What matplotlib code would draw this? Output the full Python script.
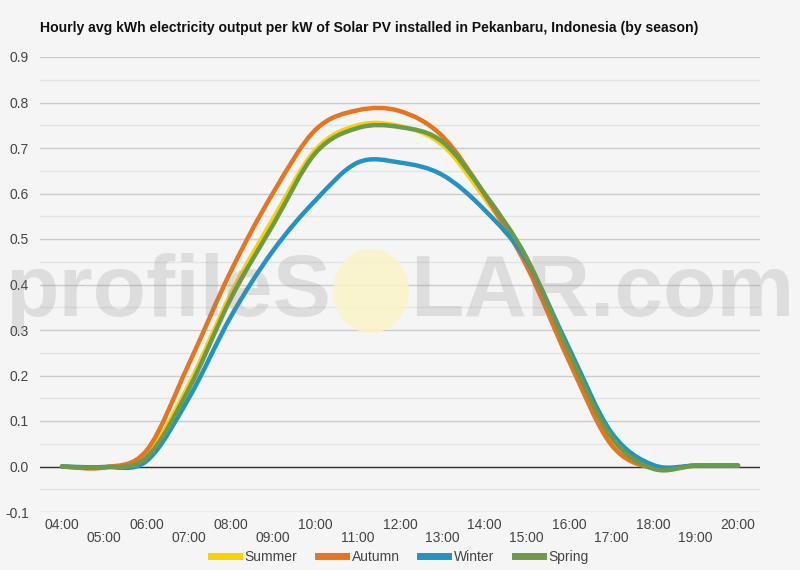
import matplotlib
matplotlib.use("Agg")
import matplotlib.pyplot as plt
from matplotlib.path import Path
from matplotlib.patches import PathPatch, Ellipse
from matplotlib.lines import Line2D
import numpy as np

plt.rcParams['font.family'] = ['Liberation Sans', 'DejaVu Sans']

# hourly averages, 04:00 .. 20:00
hours = list(range(4, 21))
hour_labels = [f"{h:02d}:00" for h in hours]
summer = [0.0, -0.002, 0.025, 0.18, 0.38, 0.545, 0.696, 0.75, 0.748, 0.707, 0.59, 0.45, 0.24, 0.055, -0.003, 0.002, 0.002]
autumn = [0.0, -0.002, 0.035, 0.225, 0.43, 0.602, 0.74, 0.783, 0.781, 0.726, 0.598, 0.44, 0.232, 0.048, -0.004, 0.002, 0.002]
winter = [0.0, -0.001, 0.012, 0.15, 0.33, 0.475, 0.585, 0.668, 0.668, 0.641, 0.564, 0.452, 0.26, 0.075, 0.003, 0.002, 0.002]
spring = [0.0, -0.002, 0.02, 0.17, 0.37, 0.532, 0.689, 0.744, 0.746, 0.714, 0.60, 0.458, 0.25, 0.065, -0.005, 0.002, 0.002]

series = [("Summer", summer, "#f9d200"),
          ("Autumn", autumn, "#e8741e"),
          ("Winter", winter, "#2293c3"),
          ("Spring", spring, "#6b9a4a")]

BG = "#f5f5f5"


# smooth curve through the points (catmull-rom as cubic bezier)
def smooth_path(x, y):
    pts = np.column_stack([x, y]).astype(float)
    n = len(pts)
    verts = [pts[0]]
    codes = [Path.MOVETO]
    for i in range(n - 1):
        p0 = pts[max(i - 1, 0)]
        p1 = pts[i]
        p2 = pts[i + 1]
        p3 = pts[min(i + 2, n - 1)]
        c1 = p1 + (p2 - p0) / 6.0
        c2 = p2 - (p3 - p1) / 6.0
        verts += [c1, c2, p2]
        codes += [Path.CURVE4] * 3
    return Path(verts, codes)


fig = plt.figure(figsize=(8, 5.7), dpi=100, facecolor=BG)
ax = fig.add_axes([0.05, 1 - 512 / 570, 0.90, (512 - 57) / 570])
ax.set_facecolor(BG)

for name, vals, col in series:
    patch = PathPatch(smooth_path(hours, vals), fill=False, edgecolor=col,
                      lw=3.2, capstyle='round', joinstyle='round', zorder=3)
    ax.add_patch(patch)

ax.set_xlim(4 - 22 / 42.25, 20 + 22 / 42.25)
ax.set_ylim(-0.1, 0.9)

yt = np.round(np.arange(-0.1, 0.91, 0.1), 1)
ax.set_yticks(yt)
ax.set_yticks(np.round(np.arange(-0.05, 0.9, 0.1), 2), minor=True)
ax.set_yticklabels([f"{v:.1f}" for v in yt])
ax.grid(axis='y', which='major', color='#cccccc', lw=1)
ax.grid(axis='y', which='minor', color='#e4e4e4', lw=1)
ax.axhline(0, color='#333333', lw=1, zorder=2)
ax.set_axisbelow(True)

ax.set_xticks(hours[::2])
ax.set_xticklabels(hour_labels[::2])
ax.set_xticks(hours[1::2], minor=True)
ax.set_xticklabels(hour_labels[1::2], minor=True)
ax.tick_params(axis='x', which='major', length=0, pad=4, labelsize=10, labelcolor='#444444')
ax.tick_params(axis='x', which='minor', length=0, pad=14, labelsize=10, labelcolor='#444444')
ax.tick_params(axis='y', which='both', length=0, pad=8, labelsize=10, labelcolor='#444444')
for s in ax.spines.values():
    s.set_visible(False)

fig.text(0.05, 1 - 28 / 570,
         "Hourly avg kWh electricity output per kW of Solar PV installed in Pekanbaru, Indonesia (by season)",
         fontsize=10.1, fontweight='bold', va='center', ha='left', color='#111111')

# watermark
wm = fig.add_axes([0, 0, 1, 1], facecolor='none')
wm.set_xlim(0, 800)
wm.set_ylim(570, 0)
wm.axis('off')
wm.add_patch(Ellipse((371, 291), 76, 84, facecolor='#faf3c8', edgecolor='none', alpha=0.85, zorder=1))
wm.text(331, 316, "profileS", fontsize=63, fontweight='bold', color='#808080', alpha=0.2,
        ha='right', va='baseline', zorder=2)
wm.text(410, 316, "LAR.com", fontsize=63, fontweight='bold', color='#808080', alpha=0.2,
        ha='left', va='baseline', zorder=2)

handles = [Line2D([0], [0], color=c, lw=5) for _, _, c in series]
fig.legend(handles, [n for n, _, _ in series], loc='center', bbox_to_anchor=(0.5, 1 - 557 / 570),
           ncol=4, frameon=False, fontsize=10, handlelength=2.0, handletextpad=0.4,
           columnspacing=1.5, labelcolor='#444444')

fig.savefig("out.png", dpi=100, facecolor=BG)
